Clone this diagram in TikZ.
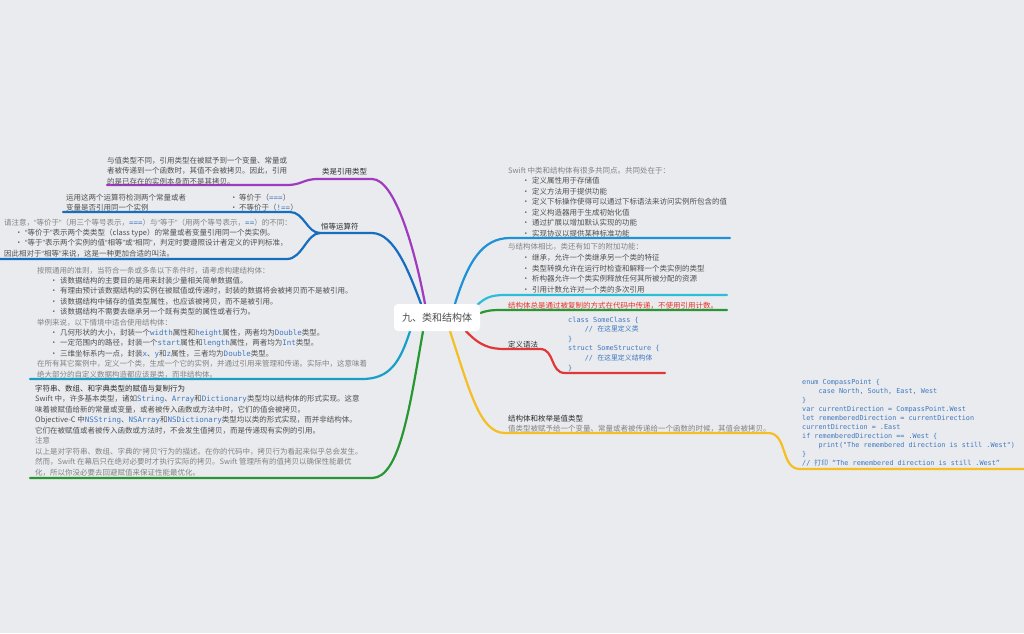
\documentclass[tikz,border=0pt]{standalone}
\usepackage{fontspec}
\setmainfont{Noto Sans CJK SC}
\setmonofont{DejaVu Sans Mono}
\newfontfamily\cjk{Noto Sans CJK SC}
\newfontfamily\qfont{Liberation Sans}
\definecolor{bg}{RGB}{233,235,238}
\definecolor{txt}{RGB}{80,80,80}
\definecolor{lt}{RGB}{130,130,130}
\definecolor{dk}{RGB}{45,45,45}
\definecolor{codeblue}{RGB}{64,120,192}
\definecolor{cPurple}{RGB}{160,58,190}
\definecolor{cBlue}{RGB}{24,110,190}
\definecolor{cCyanL}{RGB}{22,160,200}
\definecolor{cBlueTR}{RGB}{30,145,215}
\definecolor{cCyanR}{RGB}{45,190,215}
\definecolor{cGreen}{RGB}{40,150,50}
\definecolor{cRed}{RGB}{225,55,55}
\definecolor{cYellow}{RGB}{245,190,35}
\definecolor{redtxt}{RGB}{230,50,40}
\newcommand{\cd}[1]{{\ttfamily\color{codeblue}#1}}
\newcommand{\bu}[1][10]{\hspace*{#1pt}\makebox[10pt][l]{•}}
\newcommand{\oq}{{\qfont “}}
\newcommand{\cq}{{\qfont ”}}
\pgfdeclarelayer{bgfill}
\pgfdeclarelayer{lines}
\pgfsetlayers{bgfill,lines,main}
\begin{document}
\begin{tikzpicture}[x=1pt,y=-1pt,
  bodytxt/.style={anchor=base west,inner sep=0pt,align=left,text=txt},
  lbl/.style={anchor=base west,inner sep=0pt,text=dk,font=\fontsize{7.5}{9}\selectfont},
  codeblk/.style={anchor=base west,inner sep=0pt,align=left,text=codeblue},
  br/.style={line width=2.2pt,line cap=round}]
\useasboundingbox (0,0) rectangle (1024,633);
\begin{pgfonlayer}{bgfill}
\fill[bg] (0,0) rectangle (1024,633);
\end{pgfonlayer}

% root
\node[fill=white,rounded corners=4pt,minimum width=86pt,minimum height=27pt,inner sep=0pt,
      text=dk!85,font=\fontsize{10}{12}\selectfont] (root) at (437,317.5) {九、类和结构体};

% free-end coordinates
\coordinate (pA) at (372,179);
\coordinate (pB) at (318,179);
\coordinate (pEnd) at (107,185);
\coordinate (bA) at (372,233);
\coordinate (bB) at (320,233);
\coordinate (bUp) at (63,212);
\coordinate (bLo) at (0,259);
\coordinate (tREnd) at (730,238);
\coordinate (cREnd) at (727,295);
\coordinate (gREnd) at (727,310);
\coordinate (rA) at (505,349);
\coordinate (rB) at (540,349);
\coordinate (rEnd) at (665,373);
\coordinate (yA) at (505,433);
\coordinate (yB) at (768,433);
\coordinate (yEnd) at (1024,469);
\coordinate (gLEnd) at (30,478);
\coordinate (cLEnd) at (30,379);

\begin{pgfonlayer}{lines}
\draw[br,cPurple] ([xshift=-12pt]root.north) .. controls (415,250) and (395,179) .. (pA) -- (pB)
   .. controls (303,179) and (302,185) .. (287,185) -- (pEnd);
\draw[br,cBlue] ([xshift=-16pt]root.north) .. controls (410,275) and (395,233) .. (bA) -- (bB);
\draw[br,cBlue] (bB) .. controls (307,233) and (304,212) .. (290,212) -- (bUp);
\draw[br,cBlue] (bB) .. controls (307,233) and (302,259) .. (287,259) -- (bLo);
\draw[br,cBlueTR] ([xshift=18pt]root.north) .. controls (468,262) and (482,238) .. (510,238) -- (tREnd);
\draw[br,cCyanR] ([xshift=-4pt,yshift=-2pt]root.north east) .. controls (485,298) and (490,295) .. (505,295) -- (cREnd);
\draw[br,cGreen] ([yshift=4.5pt]root.east) .. controls (486,311) and (490,310) .. (500,310) -- (gREnd);
\draw[br,cRed] ([xshift=29pt]root.south) .. controls (480,346) and (490,349) .. (rA) -- (rB)
   .. controls (555,349) and (550,373) .. (565,373) -- (rEnd);
\draw[br,cYellow] ([xshift=13pt]root.south) .. controls (470,392) and (480,433) .. (yA) -- (yB)
   .. controls (788,433) and (780,469) .. (800,469) -- (yEnd);
\draw[br,cGreen] ([xshift=-14pt]root.south) .. controls (410,405) and (400,478) .. (372,478) -- (gLEnd);
\draw[br,cCyanL] ([xshift=-27pt]root.south) .. controls (400,362) and (390,379) .. (362,379) -- (cLEnd);
\end{pgfonlayer}

% purple branch
\node[lbl] (lA) at (322,174) {类是引用类型};
\node[bodytxt,font=\fontsize{7.5}{10.8}\selectfont] (tA) at (107,184.6)
 {与值类型不同，引用类型在被赋予到一个变量、常量或\\者被传递到一个函数时，其值不会被拷贝。因此，引用\\的是已存在的实例本身而不是其拷贝。};

% identity operators
\node[lbl] (lB) at (321,229) {恒等运算符};
\node[bodytxt,font=\fontsize{7.5}{10}\selectfont] (tB1) at (66,210)
 {运用这两个运算符检测两个常量或者\\变量是否引用同一个实例};
\node[bodytxt,font=\fontsize{7.5}{10}\selectfont] (tB2) at (230,210)
 {\makebox[9pt][l]{•}等价于（\cd{===}）\\\makebox[9pt][l]{•}不等价于（\cd{!==}）};
\node[bodytxt,font=\fontsize{7.5}{10.4}\selectfont] (tB3) at (4,256.2)
 {{\color{lt}请注意，\oq 等价于\cq（用三个等号表示，\cd{===}）与\oq 等于\cq（用两个等号表示，\cd{==}）的不同：}\\
  \bu[11]\oq 等价于\cq 表示两个类类型（class type）的常量或者变量引用同一个类实例。\\
  \bu[11]\oq 等于\cq 表示两个实例的值\oq 相等\cq 或\oq 相同\cq，判定时要遵照设计者定义的评判标准，\\
  因此相对于\oq 相等\cq 来说，这是一种更加合适的叫法。};

% left cyan block
\node[bodytxt,font=\fontsize{7.5}{10.4}\selectfont] (tC) at (37,377)
 {{\color{lt}按照通用的准则，当符合一条或多条以下条件时，请考虑构建结构体：}\\
  \bu[13]该数据结构的主要目的是用来封装少量相关简单数据值。\\
  \bu[13]有理由预计该数据结构的实例在被赋值或传递时，封装的数据将会被拷贝而不是被引用。\\
  \bu[13]该数据结构中储存的值类型属性，也应该被拷贝，而不是被引用。\\
  \bu[13]该数据结构不需要去继承另一个既有类型的属性或者行为。\\
  {\color{lt}举例来说，以下情境中适合使用结构体：}\\
  \bu[13]几何形状的大小，封装一个\cd{width}属性和\cd{height}属性，两者均为\cd{Double}类型。\\
  \bu[13]一定范围内的路径，封装一个\cd{start}属性和\cd{length}属性，两者均为\cd{Int}类型。\\
  \bu[13]三维坐标系内一点，封装\cd{x}、\cd{y}和\cd{z}属性，三者均为\cd{Double}类型。\\
  {\color{lt}在所有其它案例中，定义一个类，生成一个它的实例，并通过引用来管理和传递。实际中，这意味着}\\
  {\color{lt}绝大部分的自定义数据构造都应该是类，而非结构体。}};

% left green block
\node[bodytxt,font=\fontsize{7.5}{10.5}\selectfont] (tD) at (35,475)
 {{\color{dk}字符串、数组、和字典类型的赋值与复制行为}\\
  Swift 中，许多基本类型，诸如\cd{String}、\cd{Array}和\cd{Dictionary}类型均以结构体的形式实现。这意\\
  味着被赋值给新的常量或变量，或者被传入函数或方法中时，它们的值会被拷贝。\\
  Objective-C 中\cd{NSString}、\cd{NSArray}和\cd{NSDictionary}类型均以类的形式实现，而并非结构体。\\
  它们在被赋值或者被传入函数或方法时，不会发生值拷贝，而是传递现有实例的引用。\\
  {\color{lt}注意}\\
  {\color{lt}以上是对字符串、数组、字典的\oq 拷贝\cq 行为的描述。在你的代码中，拷贝行为看起来似乎总会发生。}\\
  {\color{lt}然而，Swift 在幕后只在绝对必要时才执行实际的拷贝。Swift 管理所有的值拷贝以确保性能最优}\\
  {\color{lt}化，所以你没必要去回避赋值来保证性能最优化。}};

% right top blue
\node[bodytxt,font=\fontsize{7.5}{10.5}\selectfont] (tE) at (508,236)
 {{\color{lt}Swift 中类和结构体有很多共同点。共同处在于：}\\
  \bu[14]定义属性用于存储值\\
  \bu[14]定义方法用于提供功能\\
  \bu[14]定义下标操作使得可以通过下标语法来访问实例所包含的值\\
  \bu[14]定义构造器用于生成初始化值\\
  \bu[14]通过扩展以增加默认实现的功能\\
  \bu[14]实现协议以提供某种标准功能};

% right cyan
\node[bodytxt,font=\fontsize{7.5}{10.8}\selectfont] (tF) at (508,292.7)
 {{\color{lt}与结构体相比，类还有如下的附加功能：}\\
  \bu[14]继承，允许一个类继承另一个类的特征\\
  \bu[14]类型转换允许在运行时检查和解释一个类实例的类型\\
  \bu[14]析构器允许一个类实例释放任何其所被分配的资源\\
  \bu[14]引用计数允许对一个类的多次引用};

% right green (red text)
\node[bodytxt,text=redtxt,font=\fontsize{7.5}{9}\selectfont] (tG) at (508,308)
 {结构体总是通过被复制的方式在代码中传递，不使用引用计数。};

% red definition syntax
\node[lbl] (lH) at (508,347) {定义语法};
\node[codeblk,font=\ttfamily\fontsize{6.9}{9.6}\selectfont] (cH) at (568,370)
 {class SomeClass \{\\
  \phantom{0000}// {\cjk 在这里定义类}\\
  \}\\
  struct SomeStructure \{\\
  \phantom{0000}// {\cjk 在这里定义结构体}\\
  \}};

% yellow value types
\node[bodytxt,font=\fontsize{7.5}{10}\selectfont] (tI) at (508,431)
 {{\color{dk}结构体和枚举是值类型}\\
  {\color{lt}值类型被赋予给一个变量、常量或者被传递给一个函数的时候，其值会被拷贝。}};
\node[codeblk,font=\ttfamily\fontsize{6.8}{8.95}\selectfont] (cI) at (802,465)
 {enum CompassPoint \{\\
  \phantom{0000}case North, South, East, West\\
  \}\\
  var currentDirection = CompassPoint.West\\
  let rememberedDirection = currentDirection\\
  currentDirection = .East\\
  if rememberedDirection == .West \{\\
  \phantom{0000}print("The remembered direction is still .West")\\
  \}\\
  // {\cjk 打印} “The remembered direction is still .West”};
\end{tikzpicture}
\end{document}
